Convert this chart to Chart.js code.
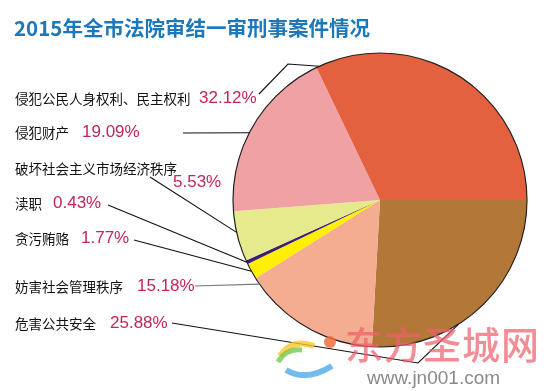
<!DOCTYPE html>
<html><head><meta charset="utf-8">
<script src="https://cdn.jsdelivr.net/npm/chart.js@4.4.1/dist/chart.umd.min.js"></script>
<style>
html,body{margin:0;padding:0;background:#fff;}
#wrap{position:relative;width:547px;height:391px;overflow:hidden;background:#fff;}
#c{position:absolute;left:0;top:0;}
.t{position:absolute;white-space:nowrap;line-height:24px;height:24px;}
.lab{font-family:"Noto Sans CJK SC","Noto Sans",sans-serif;font-size:13.5px;color:#111;}
.pct{font-family:"Liberation Sans",Arial,sans-serif;font-size:17px;color:#c2255a;}
#title{position:absolute;left:14px;top:12px;font-family:"Noto Sans CJK SC",sans-serif;font-weight:bold;font-size:20.5px;line-height:30px;color:#1a78bb;white-space:nowrap;}
#wm{position:absolute;left:345px;top:318px;font-family:"Noto Sans CJK SC",sans-serif;font-weight:500;font-size:38px;line-height:50px;color:rgba(240,95,108,0.72);letter-spacing:1px;white-space:nowrap;}
#wmurl{position:absolute;left:367px;top:366px;font-family:"Liberation Sans",Arial,sans-serif;font-size:19px;line-height:24px;color:#8a8a8a;white-space:nowrap;}
#logo{position:absolute;left:272px;top:326px;}
</style></head>
<body><div id="wrap"><canvas id="c" width="547" height="391"></canvas>
<div id="title">2015年全市法院审结一审刑事案件情况</div>
<div id="labels"></div>
<svg id="logo" width="75" height="55" viewBox="0 0 75 55">
  <path d="M8 30 Q20 12 42 20" stroke="rgba(250,200,40,0.8)" stroke-width="6" fill="none"/>
  <path d="M6 36 Q14 22 30 24" stroke="rgba(120,200,80,0.8)" stroke-width="5" fill="none"/>
  <path d="M14 44 Q34 56 60 40" stroke="rgba(80,170,230,0.8)" stroke-width="6" fill="none"/>
  <circle cx="58" cy="16" r="6" fill="rgba(240,110,60,0.85)"/>
</svg>
<div id="wm">东方圣城网</div>
<div id="wmurl">www.jn001.com</div>
</div>
<script>
// Data (clockwise from 3 o'clock)
const categories = ['危害公共安全','妨害社会管理秩序','贪污贿赂','渎职','破坏社会主义市场经济秩序','侵犯财产','侵犯公民人身权利、民主权利'];
const percentages = [25.88, 15.18, 1.77, 0.43, 5.53, 19.09, 32.12];
const colors = ['#b37738','#f4ad91','#fff000','#3b1f78','#e6ea8c','#f0a1a3','#e4613f'];

// Layout of labels and leader lines (per category)
const layout = [
  {lx:15, ly:323, px:110, py:323, from:[172,323], via:[[418,363]], f:0.62, lc:'#111'},
  {lx:15, ly:286, px:137, py:286, from:[195,286], via:[], f:0.95, lc:'#777'},
  {lx:15, ly:238, px:81,  py:238, from:[134,240], via:[], f:0.5, lc:'#111'},
  {lx:15, ly:203, px:53,  py:203, from:[108,205], via:[], f:0.5, lc:'#111'},
  {lx:15, ly:168, px:173, py:182, from:[150,177], via:[], f:0.58, lc:'#111'},
  {lx:15, ly:132, px:82,  py:132, from:[183,133], via:[], f:0.46, lc:'#111'},
  {lx:15, ly:98,  px:199, py:98,  from:[259,94],  via:[[288,64]], f:0.01, lc:'#111'}
];

const labelsDiv = document.getElementById('labels');
categories.forEach((c,i)=>{
  const L = layout[i];
  const a = document.createElement('div');
  a.className='t lab'; a.textContent=c;
  a.style.left=L.lx+'px'; a.style.top=(L.ly-12)+'px';
  labelsDiv.appendChild(a);
  const b = document.createElement('div');
  b.className='t pct'; b.textContent=percentages[i].toFixed(2)+'%';
  b.style.left=L.px+'px'; b.style.top=(L.py-12)+'px';
  labelsDiv.appendChild(b);
});

const leaderPlugin = {
  id:'leaders',
  afterDatasetsDraw(chart){
    const ctx = chart.ctx;
    const meta = chart.getDatasetMeta(0);
    const arc0 = meta.data[0];
    ctx.save();
    ctx.beginPath();
    ctx.arc(arc0.x, arc0.y, arc0.outerRadius, 0, Math.PI*2);
    ctx.strokeStyle='#222'; ctx.lineWidth=1.2; ctx.stroke();
    meta.data.forEach((arc,i)=>{
      const L = layout[i];
      const ang = arc.startAngle + L.f*(arc.endAngle-arc.startAngle);
      const ex = arc.x + arc.outerRadius*Math.cos(ang);
      const ey = arc.y + arc.outerRadius*Math.sin(ang);
      ctx.beginPath();
      ctx.moveTo(L.from[0], L.from[1]);
      L.via.forEach(p=>ctx.lineTo(p[0],p[1]));
      ctx.lineTo(ex, ey);
      ctx.strokeStyle=L.lc; ctx.lineWidth=1.1; ctx.stroke();
    });
    ctx.restore();
  }
};

new Chart(document.getElementById('c'), {
  type:'pie',
  data:{ labels:categories, datasets:[{ data:percentages, backgroundColor:colors, borderWidth:0, hoverOffset:0 }]},
  options:{
    responsive:false, animation:false, rotation:90,
    layout:{padding:{left:233,right:20,top:53,bottom:44}},
    plugins:{legend:{display:false}, tooltip:{enabled:false}, title:{display:false}}
  },
  plugins:[leaderPlugin]
});
</script>
</body></html>
